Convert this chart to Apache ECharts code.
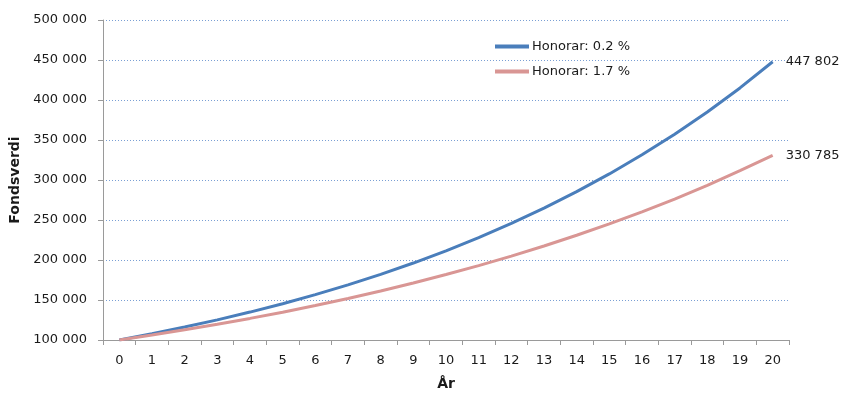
<!DOCTYPE html>
<html>
<head>
<meta charset="utf-8">
<script src="https://cdn.jsdelivr.net/npm/echarts@6/dist/echarts.min.js"></script>
<style>
  html, body { margin: 0; padding: 0; background: #fff; }
  #chart { width: 843px; height: 396px; }
</style>
</head>
<body>
<div id="chart"></div>
<script>
// Years on the x axis
const years = ['0','1','2','3','4','5','6','7','8','9','10','11','12','13','14','15','16','17','18','19','20'];

// Fund value per year, fee 0.2 %
const fondLavHonorar = [100000, 107800, 116200, 125200, 134900, 145400, 156700, 168900, 182100, 196200,
  211500, 228000, 245700, 264800, 285400, 307600, 331500, 357300, 385100, 415100, 447802];

// Fund value per year, fee 1.7 %
const fondHoyHonorar = [100000, 106200, 112700, 119600, 127000, 134800, 143100, 151900, 161300, 171200,
  181800, 193000, 204900, 217500, 230900, 245100, 260200, 276200, 293200, 311600, 330785];

const seriesNames = ['Honorar: 0.2 %', 'Honorar: 1.7 %'];

// Value axis ticks
const yMin = 100000, yMax = 500000, yStep = 50000;

const FONT = '"DejaVu Sans", Verdana, sans-serif';
const TEXT = '#1a1a1a';

// Thousands separated by a space: 447 802
function fmt(v) {
  return String(Math.round(v)).replace(/\B(?=(\d{3})+(?!\d))/g, ' ');
}

const chart = echarts.init(document.getElementById('chart'), null, { renderer: 'canvas' });

chart.setOption({
  animation: false,
  backgroundColor: '#ffffff',
  textStyle: { fontFamily: FONT },
  grid: { left: 103, right: 54, top: 20, bottom: 51, containLabel: false },
  legend: {
    orient: 'vertical',
    left: 490,
    top: 35,
    itemGap: 12,
    itemWidth: 34,
    itemHeight: 4,
    icon: 'rect',
    textStyle: { fontFamily: FONT, fontSize: 13, color: TEXT, padding: [0, 0, 0, -2] },
    data: seriesNames
  },
  xAxis: {
    type: 'category',
    data: years,
    boundaryGap: true,
    name: 'År',
    nameLocation: 'middle',
    nameGap: 37,
    nameTextStyle: { fontFamily: FONT, fontSize: 14, fontWeight: 'bold', color: TEXT },
    axisLine: { lineStyle: { color: '#9a9a9a', width: 1 } },
    axisTick: { show: true, alignWithLabel: false, length: 5, lineStyle: { color: '#9a9a9a' } },
    axisLabel: { fontFamily: FONT, fontSize: 13, color: TEXT, margin: 14, interval: 0 },
    splitLine: { show: false }
  },
  yAxis: {
    type: 'value',
    min: yMin,
    max: yMax,
    interval: yStep,
    name: 'Fondsverdi',
    nameLocation: 'middle',
    nameGap: 76,
    nameRotate: 90,
    nameTextStyle: { fontFamily: FONT, fontSize: 14, fontWeight: 'bold', color: TEXT },
    axisLine: { show: true, lineStyle: { color: '#9a9a9a', width: 1 } },
    axisTick: { show: true, length: 5, lineStyle: { color: '#9a9a9a' } },
    axisLabel: { fontFamily: FONT, fontSize: 13, color: TEXT, margin: 16, formatter: fmt },
    splitLine: { show: true, lineStyle: { color: '#7a9fd4', type: [1, 2], width: 1 } }
  },
  series: [
    {
      name: seriesNames[0],
      type: 'line',
      data: fondLavHonorar,
      showSymbol: false,
      symbol: 'none',
      smooth: false,
      color: '#4a7ebb',
      lineStyle: { color: '#4a7ebb', width: 3 },
      endLabel: {
        show: true,
        formatter: p => fmt(p.value),
        fontFamily: FONT,
        fontSize: 13,
        color: TEXT,
        distance: 13
      }
    },
    {
      name: seriesNames[1],
      type: 'line',
      data: fondHoyHonorar,
      showSymbol: false,
      symbol: 'none',
      smooth: false,
      color: '#d99694',
      lineStyle: { color: '#d99694', width: 3 },
      endLabel: {
        show: true,
        formatter: p => fmt(p.value),
        fontFamily: FONT,
        fontSize: 13,
        color: TEXT,
        distance: 13
      }
    }
  ]
});
</script>
</body>
</html>
